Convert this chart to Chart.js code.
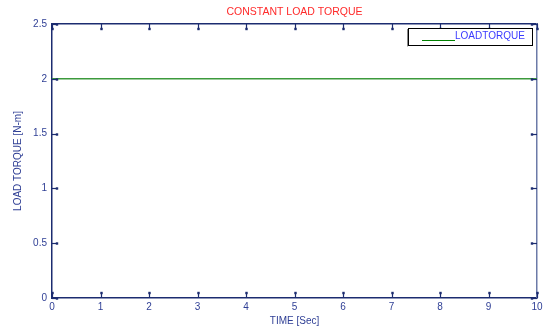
<!DOCTYPE html>
<html>
<head>
<meta charset="utf-8">
<script src="https://cdn.jsdelivr.net/npm/chart.js@4"></script>
<style>
  html, body { margin: 0; padding: 0; background: #fff; }
  #wrap { width: 543px; height: 327px; }
</style>
</head>
<body>
<div id="wrap"><canvas id="grafico-torque"></canvas></div>
<script>
// dados
const timeSec = [0, 1, 2, 3, 4, 5, 6, 7, 8, 9, 10];
const loadTorque = [2, 2, 2, 2, 2, 2, 2, 2, 2, 2, 2];
const xTicks = [0, 1, 2, 3, 4, 5, 6, 7, 8, 9, 10];
const yTicks = [0, 0.5, 1, 1.5, 2, 2.5];

const AXIS = '#1c2c70';
const LABEL = '#2f3f95';
const FONT = 'Liberation Sans, Arial, sans-serif';

// marcas de escala para dentro + caixa da legenda
const frameTicks = {
    id: 'frameTicks',
    afterDraw(chart) {
        const { ctx, chartArea: a, scales } = chart;
        ctx.save();
        ctx.strokeStyle = AXIS;
        ctx.fillStyle = AXIS;
        ctx.lineWidth = 1.2;
        const mark = (x1, y1, x2, y2) => {
            ctx.beginPath();
            ctx.moveTo(x1, y1); ctx.lineTo(x2, y2);
            ctx.stroke();
            ctx.fillRect(x2 - 1.2, y2 - 1.2, 2.4, 2.4);
        };
        xTicks.forEach(v => {
            const px = Math.round(scales.x.getPixelForValue(v)) + 0.5;
            mark(px, a.bottom, px, a.bottom - 5);
            mark(px, a.top, px, a.top + 5);
        });
        yTicks.forEach(v => {
            const py = Math.round(scales.y.getPixelForValue(v)) + 0.5;
            mark(a.left, py, a.left + 5, py);
            mark(a.right, py, a.right - 5, py);
        });

        // legenda
        const lx = 408, ly = 28, lw = 124, lh = 17;
        ctx.fillStyle = '#fff';
        ctx.fillRect(lx, ly, lw, lh);
        ctx.strokeStyle = '#000';
        ctx.lineWidth = 1;
        ctx.strokeRect(lx + 0.5, ly + 0.5, lw, lh);
        ctx.strokeStyle = '#888';
        ctx.beginPath();
        ctx.moveTo(lx - 0.5, ly + 1); ctx.lineTo(lx - 0.5, ly + lh + 1.5);
        ctx.stroke();
        ctx.strokeStyle = '#008000';
        ctx.lineWidth = 1;
        ctx.beginPath();
        ctx.moveTo(422, 40.5); ctx.lineTo(455, 40.5);
        ctx.stroke();
        ctx.fillStyle = '#3a3aff';
        ctx.font = '10px ' + FONT;
        ctx.textBaseline = 'middle';
        ctx.fillText(chart.data.datasets[0].label, 455, 36);
        ctx.restore();
    }
};

new Chart(document.getElementById('grafico-torque'), {
    type: 'line',
    data: {
        datasets: [{
            label: 'LOADTORQUE',
            data: timeSec.map((t, i) => ({ x: t, y: loadTorque[i] })),
            borderColor: '#3c9a3c',
            borderWidth: 1.5,
            pointRadius: 0,
            tension: 0
        }]
    },
    options: {
        responsive: true,
        maintainAspectRatio: false,
        animation: false,
        layout: { padding: 0 },
        plugins: {
            legend: { display: false },
            tooltip: { enabled: false }
        },
        scales: {
            x: {
                type: 'linear',
                position: 'bottom',
                min: 0, max: 10,
                afterBuildTicks: s => { s.ticks = xTicks.map(v => ({ value: v })); },
                afterFit: s => { s.height = 29; s.paddingLeft = 0; s.paddingRight = 6; },
                grid: { display: false, drawTicks: false },
                border: { color: AXIS, width: 1.5 },
                ticks: { color: LABEL, padding: 3, font: { family: FONT, size: 10 } },
                title: {
                    display: true, text: 'TIME [Sec]', color: LABEL,
                    font: { family: FONT, size: 10 }, padding: { top: 1, bottom: 0 }
                }
            },
            // eixo de cima: só moldura e título
            x2: {
                type: 'linear',
                position: 'top',
                min: 0, max: 10,
                afterFit: s => { s.height = 24; s.paddingLeft = 0; s.paddingRight = 0; },
                grid: { display: false, drawTicks: false },
                border: { color: AXIS, width: 1.5 },
                ticks: { display: false },
                title: {
                    display: true, text: 'CONSTANT LOAD TORQUE', color: '#ff2a2a',
                    font: { family: FONT, size: 10.5 }, padding: { top: 6, bottom: 0 }
                }
            },
            y: {
                type: 'linear',
                position: 'left',
                min: 0, max: 2.5,
                afterBuildTicks: s => { s.ticks = yTicks.map(v => ({ value: v })); },
                afterFit: s => { s.width = 52; },
                grid: { display: false, drawTicks: false },
                border: { color: AXIS, width: 1.5 },
                ticks: {
                    color: LABEL, padding: 5, font: { family: FONT, size: 10 },
                    callback: v => String(v)
                },
                title: {
                    display: true, text: 'LOAD TORQUE [N-m]', color: LABEL,
                    font: { family: FONT, size: 10 }, padding: { top: 12, bottom: 0 }
                }
            },
            y2: {
                type: 'linear',
                position: 'right',
                min: 0, max: 2.5,
                afterFit: s => { s.width = 0; },
                grid: { display: false, drawTicks: false },
                border: { color: '#6c7aa8', width: 1.5 },
                ticks: { display: false }
            }
        }
    },
    plugins: [frameTicks]
});
</script>
</body>
</html>
